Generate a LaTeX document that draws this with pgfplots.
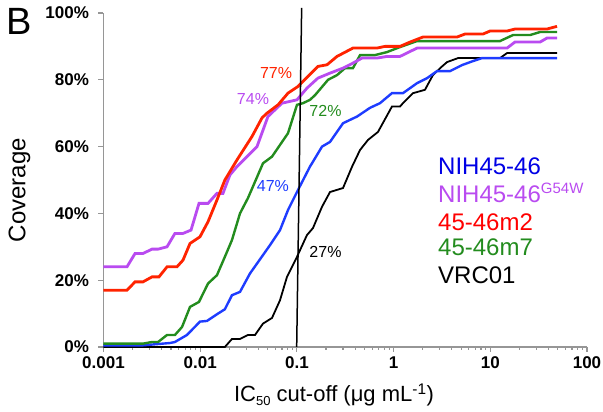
\documentclass[border=0pt]{standalone}
\usepackage{pgfplots}
\pgfplotsset{compat=1.18}
\usepackage{fontspec}
\setmainfont{Liberation Sans}
\definecolor{cblue}{RGB}{30,60,255}
\definecolor{cpurple}{RGB}{185,75,240}
\definecolor{cred}{RGB}{255,35,0}
\definecolor{cgreen}{RGB}{35,140,30}
\definecolor{axgray}{RGB}{150,150,150}
\begin{document}
\begin{tikzpicture}
\path[use as bounding box] (-103.5pt,-65pt) rectangle (499.5pt,347pt);
\begin{axis}[
  at={(0,0)}, anchor=south west,
  scale only axis, width=483.5pt, height=334pt,
  xmode=log, xmin=0.001, xmax=100, ymin=0, ymax=100,
  enlargelimits=false, clip=false,
  axis x line*=bottom, axis y line*=left,
  axis line style={-, axgray, line width=1.2pt},
  tick style={axgray, line width=1.2pt},
  tick align=outside, major tick length=5pt,
  xtick={0.001,0.01,0.1,1,10,100},
  xticklabels={0.001,0.01,0.1,1,10,100},
  minor xtick={},
  ytick={0,20,40,60,80,100},
  yticklabels={0\%,20\%,40\%,60\%,80\%,100\%},
  ticklabel style={font=\bfseries\fontsize{17}{17}\selectfont},
  xticklabel style={yshift=-1pt},
  yticklabel style={xshift=-6pt},
]
\addplot[black, line width=1.8pt] coordinates {
(0.001,0)(0.0180,0)(0.0213,2.4)(0.0258,2.4)(0.0312,3.6)(0.0369,3.6)(0.0446,7)(0.0553,8.7)(0.0669,14)(0.0790,21)(0.1002,27)(0.127,33.5)(0.1466,35.6)(0.182,42)(0.220,46.4)(0.300,47.6)(0.372,54)(0.450,59)(0.544,62)(0.690,64.4)(0.962,72)(1.165,72)(1.25,73)(1.59,76)(2.11,77)(2.55,81.4)(3.17,84)(3.57,85.3)(4.64,86.5)(12.6,86.5)(14.9,88)(49,88)};
\addplot[cblue, line width=2.4pt] coordinates {
(0.001,0.5)(0.00256,0.5)(0.0049,1.2)(0.00548,1.5)(0.0073,3.6)(0.00995,7.6)(0.01175,7.8)(0.0149,9.8)(0.0180,11.3)(0.0213,15.5)(0.0258,16.5)(0.0327,22)(0.0396,25.4)(0.0527,30.5)(0.0669,35)(0.0809,41)(0.1026,47)(0.1365,54)(0.182,60)(0.220,61.4)(0.300,67)(0.419,69)(0.570,71.6)(0.723,73)(0.962,76)(1.25,76)(1.75,79)(2.22,80.5)(2.81,82.6)(3.83,82.6)(5.10,84.4)(6.62,85.6)(8.20,86.5)(49,86.5)};
\addplot[cgreen, line width=2.4pt] coordinates {
(0.001,1)(0.00256,1)(0.00318,1.5)(0.00367,1.5)(0.00454,3.6)(0.00548,3.6)(0.00649,6)(0.00785,12)(0.00972,13.5)(0.01205,19)(0.0149,21.5)(0.0180,27)(0.0213,32)(0.0258,40)(0.0312,44.6)(0.0446,55)(0.0553,57)(0.0809,64)(0.1002,72.5)(0.1156,73)(0.1365,74)(0.154,75.4)(0.210,80)(0.260,81.4)(0.315,83.5)(0.380,83.5)(0.450,87.4)(0.643,87.4)(0.855,88.3)(1.165,89.8)(1.75,91.6)(12.6,91.6)(17.2,93.4)(25.8,93.4)(32.7,94.3)(49,94.3)};
\addplot[cpurple, line width=2.8pt] coordinates {
(0.001,24)(0.00175,24)(0.00212,28)(0.00256,28)(0.00318,29.3)(0.00367,29.3)(0.00454,30)(0.00548,34)(0.00664,34)(0.00804,35)(0.00972,43)(0.01205,43)(0.0149,46)(0.0172,46)(0.0203,51.5)(0.0240,54)(0.0387,60)(0.0502,69)(0.0701,73)(0.1002,74)(0.127,77.5)(0.165,80.5)(0.220,82)(0.300,83.5)(0.380,85)(0.471,86.5)(0.673,86.5)(0.855,87)(1.165,87)(1.75,89.5)(14.9,89.5)(18.0,91.3)(32.7,91.3)(38.6,92.5)(49,92.5)};
\addplot[cred, line width=2.8pt] coordinates {
(0.001,17)(0.00175,17)(0.00212,19.5)(0.00256,19.5)(0.00318,21)(0.00375,21)(0.00454,24)(0.00575,24)(0.00664,26)(0.00785,31)(0.00995,33)(0.01205,37.5)(0.0149,44)(0.0180,50)(0.0240,56)(0.0343,63)(0.0436,68.6)(0.0490,70)(0.0638,72.5)(0.0809,76)(0.1026,78)(0.130,81)(0.165,84)(0.205,84.5)(0.260,87)(0.380,89.5)(0.673,89.5)(0.815,90)(1.165,90)(1.48,91.3)(2.01,92.8)(4.53,92.8)(5.48,93.7)(8.41,93.7)(9.94,94.6)(14.9,94.6)(18.0,95.2)(38.6,95.2)(49,96)};
\addplot[black, line width=1.5pt] coordinates {(0.0995,0)(0.112,101.5)};
\node[anchor=east, text=cred, font=\fontsize{16}{16}\selectfont] at (axis cs:0.097,82) {77\%};
\node[anchor=east, text=cpurple, font=\fontsize{16}{16}\selectfont] at (axis cs:0.056,74.3) {74\%};
\node[anchor=west, text=cgreen, font=\fontsize{16}{16}\selectfont] at (axis cs:0.124,70.7) {72\%};
\node[anchor=east, text=cblue, font=\fontsize{16}{16}\selectfont] at (axis cs:0.090,48.2) {47\%};
\node[anchor=west, text=black, font=\fontsize{16}{16}\selectfont] at (axis cs:0.124,28.6) {27\%};
\node[anchor=base west, inner sep=0pt, text=blue!90!black, font=\fontsize{24}{24}\selectfont] at (axis cs:2.88,51.5) {NIH45-46};
\node[anchor=base west, inner sep=0pt, text=cpurple, font=\fontsize{24}{24}\selectfont] at (axis cs:2.88,43.4) {NIH45-46\textsuperscript{\fontsize{15}{15}\selectfont G54W}};
\node[anchor=base west, inner sep=0pt, text=red, font=\fontsize{24}{24}\selectfont] at (axis cs:2.88,35.0) {45-46m2};
\node[anchor=base west, inner sep=0pt, text=cgreen, font=\fontsize{24}{24}\selectfont] at (axis cs:2.88,27.5) {45-46m7};
\node[anchor=base west, inner sep=0pt, text=black, font=\fontsize{24}{24}\selectfont] at (axis cs:2.88,18.9) {VRC01};
\end{axis}
\node[rotate=90, font=\fontsize{24}{24}\selectfont] at (-84pt,157pt) {Coverage};
\node[font=\fontsize{22}{22}\selectfont] at (230.5pt,-48pt) {IC\raisebox{-0.35ex}{\fontsize{13}{13}\selectfont 50} cut-off (μg mL\textsuperscript{-1})};
\node[anchor=north west, inner sep=0pt, font=\fontsize{38}{38}\selectfont] at (-97pt,339pt) {B};
\end{tikzpicture}
\end{document}
